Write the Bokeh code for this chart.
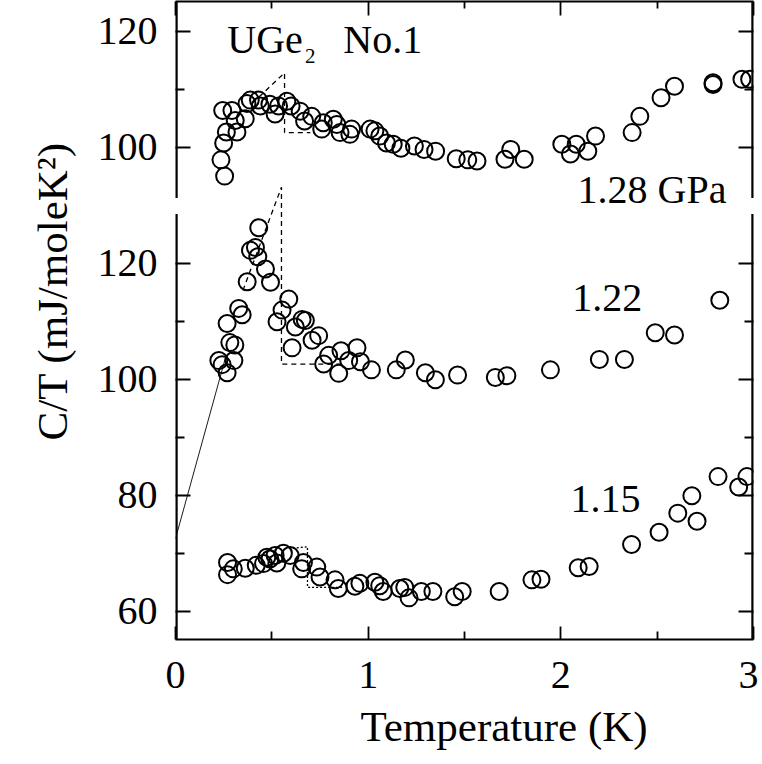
from bokeh.plotting import figure
from bokeh.models import Range1d, LinearAxis, FixedTicker, Label, Title
from bokeh.embed import file_html
from bokeh.resources import INLINE

FONT = "Liberation Serif"

# ---------------- data (C/T in mJ/moleK^2 vs T in K) ----------------
t_128 = [0.236, 0.245, 0.25, 0.255, 0.264, 0.293, 0.31, 0.319, 0.362, 0.371, 0.388, 0.431,
         0.44, 0.49, 0.517, 0.535, 0.578, 0.6, 0.647, 0.67, 0.707, 0.759, 0.767, 0.819, 0.837,
         0.854, 0.905, 0.914, 1.01, 1.035, 1.06, 1.095, 1.13, 1.17, 1.24, 1.29, 1.35, 1.457,
         1.517, 1.565, 1.71, 1.74, 1.81, 2.005, 2.05, 2.08, 2.14, 2.18, 2.37, 2.41, 2.52, 2.59,
         2.79, 2.79, 2.94, 2.98]
c_128 = [97.8, 106.3, 100.7, 95.0, 102.6, 106.3, 104.6, 102.6, 104.9, 107.5, 108.1, 108.1,
         107.1, 107.4, 105.7, 107.1, 107.9, 107.1, 106.2, 104.5, 105.3, 103.1, 104.2, 104.8, 103.9,
         102.5, 102.2, 103.1, 103.1, 102.8, 101.9, 100.7, 100.5, 99.8, 100.2, 99.6, 99.3, 98.0,
         97.8, 97.6, 97.9, 99.6, 97.9, 100.5, 98.8, 100.5, 99.3, 101.9, 102.5, 105.3, 108.5, 110.5,
         111.1, 110.8, 111.7, 111.7]

t_122 = [0.225, 0.242, 0.268, 0.268, 0.282, 0.303, 0.308, 0.328, 0.346, 0.372, 0.389, 0.415,
         0.427, 0.432, 0.467, 0.493, 0.527, 0.553, 0.588, 0.605, 0.622, 0.657, 0.674, 0.709,
         0.743, 0.769, 0.795, 0.847, 0.859, 0.899, 0.942, 0.96, 1.017, 1.146, 1.193, 1.297,
         1.349, 1.464, 1.66, 1.72, 1.946, 2.2, 2.33, 2.49, 2.59, 2.825]
c_122 = [103.2, 102.5, 101.1, 109.6, 106.3, 103.2, 105.9, 112.2, 111.1, 116.8, 122.2, 122.7,
         121.1, 126.1, 119.0, 116.7, 109.9, 111.9, 113.8, 105.4, 109.0, 110.3, 110.1, 106.7,
         107.5, 102.6, 104.1, 101.0, 104.9, 103.2, 105.4, 103.0, 101.6, 101.6, 103.3, 101.1,
         99.9, 100.7, 100.3, 100.6, 101.6, 103.4, 103.4, 108.0, 107.6, 113.6]

t_115 = [0.27, 0.27, 0.30, 0.362, 0.419, 0.457, 0.474, 0.49, 0.517, 0.526, 0.56, 0.595, 0.655,
         0.664, 0.733, 0.75, 0.828, 0.845, 0.931, 0.957, 1.035, 1.06, 1.078, 1.164, 1.19, 1.212,
         1.276, 1.336, 1.449, 1.488, 1.68, 1.85, 1.897, 2.09, 2.147, 2.367, 2.51, 2.607, 2.68,
         2.707, 2.816, 2.923, 2.966]
c_115 = [68.4, 66.3, 67.3, 67.4, 67.9, 68.2, 69.3, 69.0, 69.6, 68.3, 70.0, 69.6, 67.3,
         68.4, 67.6, 65.9, 65.4, 63.9, 64.3, 64.8, 65.0, 64.4, 63.4, 63.9, 64.1, 62.3,
         63.4, 63.4, 62.5, 63.4, 63.4, 65.4, 65.5, 67.5, 67.7, 71.5, 73.6, 76.9, 79.9,
         75.5, 83.2, 81.4, 83.2]

# idealised transitions (entropy-balance constructions)
ideal_t_128 = [0.40, 0.566, 0.566, 0.70]
ideal_c_128 = [107.6, 112.8, 102.5, 102.5]
ideal_t_122 = [0.35, 0.55, 0.55, 0.88]
ideal_c_122 = [115.3, 133.1, 102.6, 102.6]
ideal_t_115 = [0.588, 0.685, 0.685, 0.873]
ideal_c_115 = [70.8, 71.1, 64.1, 64.1]
guide_t = [0.0, 0.262]
guide_c = [72.5, 104.0]

# the 1.28 GPa panel sits above the others on the same scale, shifted by 40
TOP_PANEL_SHIFT = 40.0

x_major = [0, 1, 2, 3]
x_minor = [0.5, 1.5, 2.5]
y_major = [60, 80, 100, 120, 140, 160]
y_minor = [70, 90, 110, 150]
y_tick_labels = ["60", "80", "100", "120", "100", "120"]

Y_MIN, Y_MAX = 55.12, 165.1
BREAK_LOW, BREAK_HIGH = 128.49, 131.24

# ---------------- figure ----------------
p = figure(frame_width=578, frame_height=638,
           x_range=Range1d(0, 3), y_range=Range1d(Y_MIN, Y_MAX),
           x_axis_location=None, y_axis_location=None,
           output_backend="svg", toolbar_location=None,
           min_border_left=175, min_border_right=5, min_border_top=1, min_border_bottom=118,
           background_fill_color="white", border_fill_color="white")
p.outline_line_color = None
p.xgrid.visible = False
p.ygrid.visible = False


def style_axis(ax, major_in, minor_in, labels=True, line=True):
    ax.major_tick_in = major_in
    ax.major_tick_out = 0
    ax.minor_tick_in = minor_in
    ax.minor_tick_out = 0
    ax.major_tick_line_width = 1.8
    ax.minor_tick_line_width = 1.8
    ax.major_tick_line_color = "black"
    ax.minor_tick_line_color = "black"
    if line:
        ax.axis_line_width = 2.2
        ax.axis_line_color = "black"
    else:
        ax.axis_line_color = None
    if labels:
        ax.major_label_text_font = FONT
        ax.major_label_text_font_size = "40px"
        ax.major_label_text_color = "black"
    else:
        ax.major_label_text_font_size = "1px"
        ax.major_label_text_color = None
        ax.major_label_standoff = 0


xt = FixedTicker(ticks=x_major, minor_ticks=x_minor)
yt = FixedTicker(ticks=y_major, minor_ticks=y_minor)

left = LinearAxis(ticker=yt, major_label_overrides=dict(zip(y_major, y_tick_labels)))
style_axis(left, 15, 9, labels=True, line=False)
left.major_label_standoff = 18
p.add_layout(left, "left")

right = LinearAxis(ticker=yt)
style_axis(right, 15, 9, labels=False, line=False)
p.add_layout(right, "right")

bottom = LinearAxis(ticker=xt)
style_axis(bottom, 13, 8, labels=True, line=True)
bottom.major_label_standoff = 22
p.add_layout(bottom, "below")

top = LinearAxis(ticker=xt)
style_axis(top, 14, 7, labels=False, line=True)
p.add_layout(top, "above")

p.add_layout(Title(text="Temperature (K)", align="left", offset=185, standoff=21,
                   text_font=FONT, text_font_size="43px", text_font_style="normal",
                   text_color="black"), "below")
p.add_layout(Title(text="C/T (mJ/moleK\u00b2)", align="left", offset=199, standoff=37,
                   text_font=FONT, text_font_size="43px", text_font_style="normal",
                   text_color="black"), "left")

# broken vertical spines
p.segment(x0=[0, 0, 3, 3], y0=[Y_MIN, BREAK_HIGH, Y_MIN, BREAK_HIGH],
          x1=[0, 0, 3, 3], y1=[BREAK_LOW, Y_MAX, BREAK_LOW, Y_MAX],
          line_color="black", line_width=4.4)

# guide & idealised transitions
p.line(guide_t, guide_c, line_color="black", line_width=0.9)
p.line(ideal_t_128, [c + TOP_PANEL_SHIFT for c in ideal_c_128], line_color="black",
       line_width=1.3, line_dash="5 4")
p.line(ideal_t_122, ideal_c_122, line_color="black", line_width=1.3, line_dash="5 4")
p.line(ideal_t_115, ideal_c_115, line_color="black", line_width=1.3, line_dash="2 2")

# data
marker_kw = dict(marker="circle", size=17, fill_alpha=0, line_color="black", line_width=2.0)
p.scatter(t_128, [c + TOP_PANEL_SHIFT for c in c_128], **marker_kw)
p.scatter(t_122, c_122, **marker_kw)
p.scatter(t_115, c_115, **marker_kw)

# annotations
lab_kw = dict(text_font=FONT, text_font_size="40px", text_color="black",
              text_baseline="alphabetic", text_align="left")
p.add_layout(Label(x=0.269, y=158.5, text="UGe", **lab_kw))
p.add_layout(Label(x=0.672, y=155.7, text="2", text_font=FONT, text_font_size="21px",
                   text_color="black", text_baseline="alphabetic", text_align="left"))
p.add_layout(Label(x=0.871, y=158.5, text="No.1", **lab_kw))
p.add_layout(Label(x=2.087, y=132.7, text="1.28 GPa", **lab_kw))
p.add_layout(Label(x=2.059, y=114.0, text="1.22", **lab_kw))
p.add_layout(Label(x=2.050, y=79.3, text="1.15", **lab_kw))

open("out.html", "w").write(file_html(p, INLINE))
